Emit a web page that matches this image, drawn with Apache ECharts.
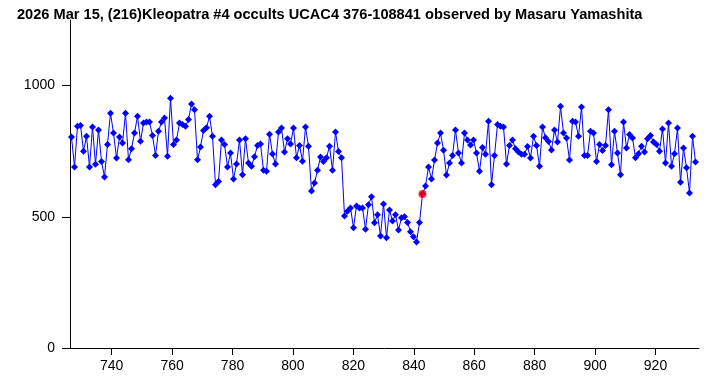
<!DOCTYPE html>
<html>
<head>
<meta charset="utf-8">
<script src="https://cdn.jsdelivr.net/npm/echarts@6/dist/echarts.min.js"></script>
<style>
  html, body { margin: 0; padding: 0; background: #fff; }
  #chart { width: 728px; height: 378px; }
</style>
</head>
<body>
<div id="chart"></div>
<script>
var chartTitle = '2026 Mar 15, (216)Kleopatra #4 occults UCAC4 376-108841 observed by Masaru Yamashita';

// time of first sample and sampling step (s)
var firstTime = 726.7;
var timeStep = 0.993;

// brightness readings, one per sample
var brightness = [
    804, 690, 845, 848, 750, 807, 690, 842, 700, 831, 711, 652, 776, 895, 819, 724, 804, 781, 895, 717, 759, 819,
    883, 788, 857, 861, 861, 810, 734, 826, 861, 877, 731, 952, 776, 793, 857, 852, 845, 871, 930, 908, 717, 766, 829,
    839, 883, 807, 622, 635, 793, 776, 690, 743, 644, 701, 793, 660, 797, 705, 693, 729, 772, 777, 677, 674, 815, 739,
    701, 823, 838, 747, 797, 777, 838, 725, 772, 712, 842, 769, 598, 629, 677, 728, 711, 725, 769, 677, 823, 749, 725,
    503, 521, 534, 458, 541, 534, 534, 453, 546, 576, 477, 508, 427, 549, 420, 526, 484, 508, 450, 496, 500, 478, 443, 424,
    404, 478, 587, 617, 690, 644, 716, 781, 819, 754, 659, 705, 734, 831, 743, 705, 819, 793, 774, 793, 743, 674, 764,
    738, 864, 622, 734, 852, 845, 842, 701, 772, 793, 759, 747, 738, 738, 768, 724, 807, 772, 693, 842, 801, 787, 755,
    831, 785, 921, 819, 800, 716, 864, 861, 807, 918, 734, 734, 826, 819, 711, 776, 753, 772, 908, 698, 826, 743, 660, 861,
    762, 814, 800, 725, 740, 769, 747, 797, 810, 785, 776, 750, 835, 705, 857, 693, 740, 838, 632, 762, 687, 591, 807, 709
];

// sample marked in red
var markedIndex = 117;

var xTicks = [740, 760, 780, 800, 820, 840, 860, 880, 900, 920];
var yTicks = [0, 500, 1000];

var points = brightness.map(function(v, i){
    return [firstTime + i * timeStep, v];
});
var marked = [points[markedIndex]];

var chart = echarts.init(document.getElementById('chart'));

var axisFont = {
    color: '#000',
    fontSize: 14,
    fontFamily: 'Liberation Sans, Arial, sans-serif'
};

chart.setOption({
    animation: false,
    backgroundColor: '#fff',
    title: {
        text: chartTitle,
        left: 12,
        top: 2,
        textStyle: {
            color: '#000',
            fontSize: 14.6,
            fontWeight: 'bold',
            fontFamily: 'Liberation Sans, Arial, sans-serif'
        }
    },
    grid: {
        left: 70,
        right: 29,
        top: 20,
        bottom: 30,
        outerBoundsMode: 'none'
    },
    xAxis: {
        type: 'value',
        min: 726.2,
        max: 934.4,
        axisLine: { onZero: false, lineStyle: { color: '#000', width: 1 } },
        axisTick: { customValues: xTicks, length: 7, lineStyle: { color: '#000' } },
        axisLabel: Object.assign({ customValues: xTicks, margin: 11 }, axisFont),
        splitLine: { show: false }
    },
    yAxis: {
        type: 'value',
        min: 0,
        max: 1250,
        axisLine: { show: true, lineStyle: { color: '#000', width: 1 } },
        axisTick: { show: true, customValues: yTicks, length: 8, lineStyle: { color: '#000' } },
        axisLabel: Object.assign({
            customValues: yTicks,
            margin: 15,
            formatter: function(v){ return String(v); }
        }, axisFont),
        splitLine: { show: false }
    },
    series: [
        {
            type: 'line',
            data: points,
            symbol: 'diamond',
            symbolSize: 7,
            showAllSymbol: true,
            lineStyle: { color: '#0000ff', width: 1 },
            itemStyle: { color: '#0000ff' }
        },
        {
            type: 'scatter',
            data: marked,
            symbol: 'circle',
            symbolSize: 8,
            itemStyle: { color: '#ff0000' },
            z: 3
        }
    ]
});
</script>
</body>
</html>
